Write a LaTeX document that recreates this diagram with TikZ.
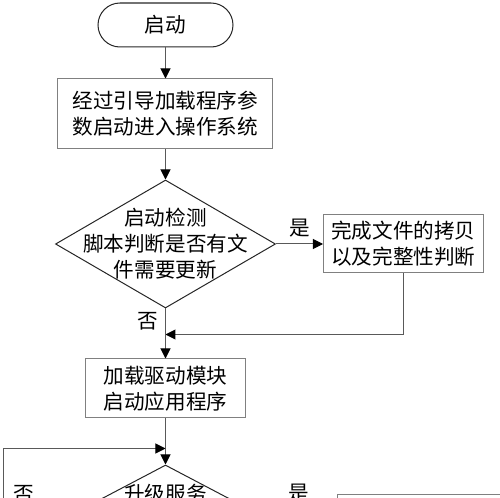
\documentclass[tikz,border=0pt]{standalone}
\usepackage{fontspec}
\newfontfamily\zhfont{Noto Sans CJK SC}
\usepackage{tikz}
\usetikzlibrary{arrows.meta,positioning,shapes.geometric}
\tikzset{
	startstop/.style = {draw=black!85, rounded corners=11pt, minimum width=67.5pt, minimum height=22pt, inner sep=0pt},
	procbox/.style = {draw=black!50, align=center, inner sep=0pt},
	decision/.style = {draw=black!85, diamond, inner sep=0pt},
	flow/.style = {draw=black!65, line width=0.5pt, -{Triangle[length=5pt,width=5pt,color=black]}},
}

\begin{document}
\begin{tikzpicture}[font=\zhfont\fontsize{10.3pt}{13pt}\selectfont, line width=0.5pt]
        \useasboundingbox (0,0) rectangle (250pt,-249pt);
        \clip (0,0) rectangle (250pt,-249pt);
        \node (start) at (82.75pt,-12.5pt) [startstop] {启动};
        \node (boot) [procbox, minimum width=107.5pt, minimum height=35pt, below=15.5pt of start] {经过引导加载程序参\\数启动进入操作系统};
        \node (check) [decision, minimum width=110pt, minimum height=64pt, below=15pt of boot,
            label={[align=center]center:启动检测\\脚本判断是否有文\\件需要更新}] {};
        \node (copy) [procbox, minimum width=80pt, minimum height=29pt, right=23.5pt of check] {完成文件的拷贝\\以及完整性判断};
        \coordinate [below=13pt of check] (join1);
        \node (driver) [procbox, minimum width=80pt, minimum height=29.5pt, below=12pt of join1] {加载驱动模块\\启动应用程序};
        \coordinate [below=15pt of driver] (join2);
        \node (upgrade) [decision, minimum width=95pt, minimum height=50pt, below=8pt of join2,
            label={[yshift=10.5pt]center:升级服务}] {};
        \node (service) [procbox, minimum width=85pt, minimum height=29pt, right=38pt of upgrade, yshift=-4.5pt] {};
        \coordinate (rail) at (2pt,0);
        \path [flow] (start) -- (boot);
        \path [flow] (boot) -- (check);
        \path [flow] (check) -- node [above] {是} (copy.west |- check);
        \path [flow] (copy.south) |- (join1);
        \path [flow] (check.south) -- node [left] {否} (join1) -- (driver);
        \path [flow] (driver) -- (upgrade);
        \path [flow] (upgrade.west) -- node [above, yshift=2.5pt, pos=0.7] {否} (upgrade.west -| rail) |- (join2);
        \path [flow] (upgrade.east) -- node [above, yshift=3pt] {是} (upgrade.east -| service.west);
    \end{tikzpicture}
\end{document}
